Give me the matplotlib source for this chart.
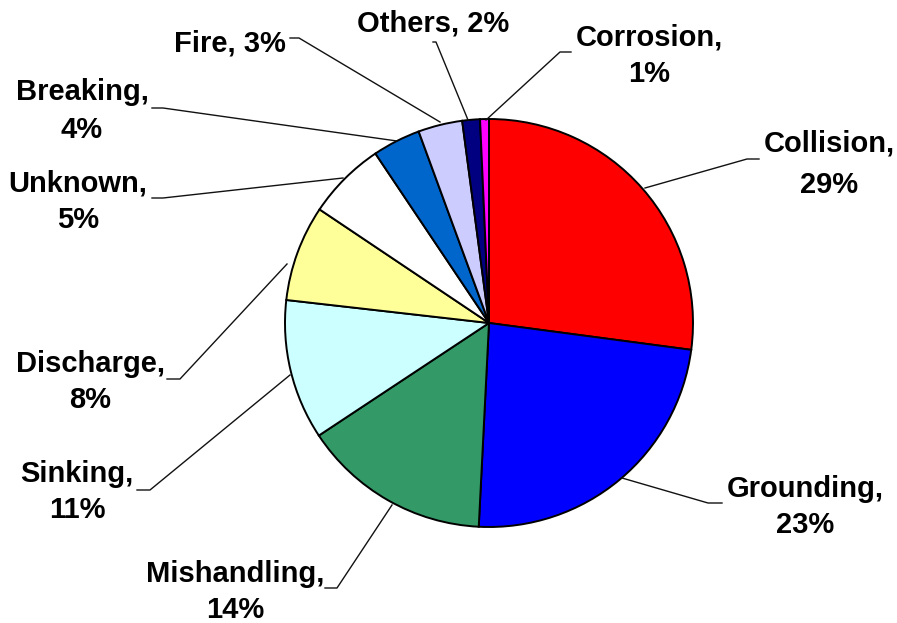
# Causes of oil spill incidents - pie chart
import matplotlib.pyplot as plt

categories = ["Collision", "Grounding", "Mishandling", "Sinking", "Discharge",
              "Unknown", "Breaking", "Fire", "Others", "Corrosion"]
# slice sizes (in %)
values = [27.1, 23.7, 14.9, 11.1, 7.6, 6.2, 3.8, 3.5, 1.4, 0.7]
pct_labels = ["29%", "23%", "14%", "11%", "8%", "5%", "4%", "3%", "2%", "1%"]
colors = ["#FF0000", "#0000FF", "#339966", "#CCFFFF", "#FFFF99",
          "#FFFFFF", "#0066CC", "#CCCCFF", "#000080", "#FF00FF"]

W, H = 897, 623

# label layout in pixel coords: (x center, baseline of name, baseline of pct or None)
label_pos = {
    "Collision": (829, 152, 193),
    "Grounding": (805, 497, 533),
    "Mishandling": (235, 582, 618),
    "Sinking": (77, 482, 518),
    "Discharge": (90, 372, 408),
    "Unknown": (78, 191, 228),
    "Breaking": (82, 100, 138),
    "Fire": (230, 51, None),
    "Others": (433, 32, None),
    "Corrosion": (649, 45, 82),
}

# leader lines, pixel coords from pie edge to label
leaders = {
    "Collision": [(645, 188), (747, 159), (759, 159)],
    "Grounding": [(622, 478), (708, 503), (722, 503)],
    "Mishandling": [(392, 505), (337, 588), (325, 588)],
    "Sinking": [(290, 375), (150, 490), (137, 490)],
    "Discharge": [(287, 264), (180, 379), (167, 379)],
    "Unknown": [(343, 178), (163, 198), (152, 198)],
    "Breaking": [(397, 141), (163, 108), (152, 108)],
    "Fire": [(440, 122), (299, 38), (290, 38)],
    "Others": [(468, 120), (436, 42), (433, 42)],
    "Corrosion": [(486, 120), (560, 52), (571, 52)],
}


def draw_pie(ax):
    ax.pie(values, colors=colors, startangle=90, counterclock=False,
           center=(489, H - 323), radius=204,
           wedgeprops=dict(edgecolor="black", linewidth=1.4))


def draw_labels(ax):
    font = dict(family=["Liberation Sans", "DejaVu Sans"], weight="bold",
                fontsize=21, ha="center", va="baseline")
    for name, pct in zip(categories, pct_labels):
        x, y1, y2 = label_pos[name]
        if y2 is None:
            ax.text(x, H - y1, f"{name}, {pct}", **font)
        else:
            ax.text(x, H - y1, f"{name},", **font)
            ax.text(x, H - y2, pct, **font)
        pts = leaders[name]
        ax.plot([p[0] for p in pts], [H - p[1] for p in pts],
                color="#111111", linewidth=1.0)


def main():
    fig = plt.figure(figsize=(W / 100, H / 100), dpi=100)
    ax = fig.add_axes([0, 0, 1, 1])
    draw_pie(ax)
    draw_labels(ax)
    ax.set_xlim(0, W)
    ax.set_ylim(0, H)
    ax.set_aspect("equal")
    ax.axis("off")
    fig.savefig("out.png", dpi=100, facecolor="white")


if __name__ == "__main__":
    main()
